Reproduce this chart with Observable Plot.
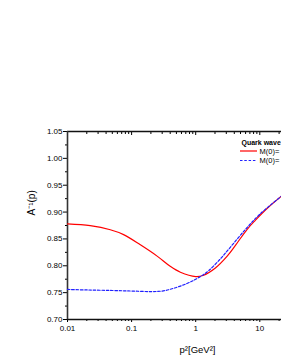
<!DOCTYPE html>
<html><head><meta charset="utf-8">
<script src="https://cdn.jsdelivr.net/npm/d3@7"></script>
<script src="https://cdn.jsdelivr.net/npm/@observablehq/plot@0.6"></script>
<style>
html,body{margin:0;padding:0;background:#fff;overflow:hidden;}
svg{font-family:"Liberation Sans",Arial,sans-serif;}
</style></head>
<body>
<div id="chart"></div>
<script>
// data
const redMomentum = [0.01, 0.0226, 0.0465, 0.075, 0.137, 0.25, 0.40, 0.577, 1.0, 1.3, 2.03, 3.1, 4.17, 6.35, 8.57, 13.1, 22];
const redSeries   = [0.878, 0.8746, 0.867, 0.858, 0.839, 0.818, 0.799, 0.788, 0.780, 0.782, 0.796, 0.818, 0.838, 0.868, 0.885, 0.907, 0.930];
const blueMomentum = [0.01, 0.02, 0.05, 0.1, 0.2, 0.3, 0.45, 0.73, 1.0, 1.3, 1.6, 2.43, 3.28, 6.0, 10, 22];
const blueSeries   = [0.756, 0.755, 0.754, 0.753, 0.752, 0.753, 0.758, 0.767, 0.775, 0.783, 0.791, 0.813, 0.831, 0.868, 0.896, 0.930];
const legendTitle = "Quark wave";
const seriesNames = ["M(0)=", "M(0)="];
const xMajor = [0.01, 0.1, 1, 10];
const xMinor = [0.02,0.03,0.04,0.05,0.06,0.07,0.08,0.09,0.2,0.3,0.4,0.5,0.6,0.7,0.8,0.9,2,3,4,5,6,7,8,9,20];
const yMajor = [0.70, 0.75, 0.80, 0.85, 0.90, 0.95, 1.00, 1.05];
const yMinor = [0.725, 0.775, 0.825, 0.875, 0.925, 0.975, 1.025];
const xDomain = [0.01, 21.8];
const yDomain = [0.70, 1.05];
const xTitle = "p²[GeV²]";
const yTitle = "A⁻¹(p)";

const red = redMomentum.map((p, i) => ({p, v: redSeries[i]}));
const blue = blueMomentum.map((p, i) => ({p, v: blueSeries[i]}));
const blank = () => "";

const svg = Plot.plot({
  width: 281, height: 363,
  marginLeft: 67, marginRight: 0, marginTop: 131, marginBottom: 44,
  style: {fontFamily: "Liberation Sans, Arial, sans-serif", color: "#000", background: "#fff"},
  x: {type: "log", domain: xDomain},
  y: {domain: yDomain},
  marks: [
    Plot.axisY(yMajor, {tickSize: 4, tickPadding: 1, tickFormat: d3.format(".2f"), fontSize: 8, label: null}),
    Plot.axisY(yMinor, {tickSize: 2, tickFormat: blank, label: null}),
    Plot.axisX(xMajor, {tickSize: 3, tickPadding: 3, fontSize: 8, tickFormat: d => String(d), label: null}),
    Plot.axisX(xMinor, {tickSize: 2, tickFormat: blank, label: null}),
    Plot.axisX(xMajor, {anchor: "top", tickSize: -3, tickFormat: blank, label: null}),
    Plot.axisX(xMinor, {anchor: "top", tickSize: -2, tickFormat: blank, label: null}),
    Plot.text([xTitle], {frameAnchor: "bottom", dx: 23, dy: 33, fontSize: 9.5, fill: "#000"}),
    Plot.text([yTitle], {frameAnchor: "left", dx: -36, dy: -10, rotate: -90, fontSize: 10, fill: "#000"}),
    Plot.ruleY([yDomain[0], yDomain[1]], {stroke: "#111", strokeWidth: 1.5}),
    Plot.ruleX([xDomain[0]], {stroke: "#333", strokeWidth: 1.6}),
    Plot.line(red, {x: "p", y: "v", stroke: "#ff0000", strokeWidth: 1.2, curve: "catmull-rom"}),
    Plot.line(blue, {x: "p", y: "v", stroke: "#2020ff", strokeWidth: 1.2, strokeDasharray: "2.5,1.8", curve: "catmull-rom"})
  ]
});

// legend
const g = d3.select(svg).append("g").attr("text-anchor", "start");
g.append("text").attr("x", 241.5).attr("y", 145).attr("font-weight", "bold").attr("font-size", 7).text(legendTitle);
const rows = [{c: "#ff0000", dash: null, y: 151}, {c: "#2020ff", dash: "2.5,1.8", y: 160.5}];
rows.forEach((r, i) => {
  g.append("line").attr("x1", 240).attr("x2", 257).attr("y1", r.y).attr("y2", r.y)
    .attr("stroke", r.c).attr("stroke-width", 1.2).attr("stroke-dasharray", r.dash);
  g.append("text").attr("x", 259.5).attr("y", r.y + 2.8).attr("font-size", 7.5).text(seriesNames[i]);
});
document.getElementById("chart").append(svg);
</script>
</body></html>
